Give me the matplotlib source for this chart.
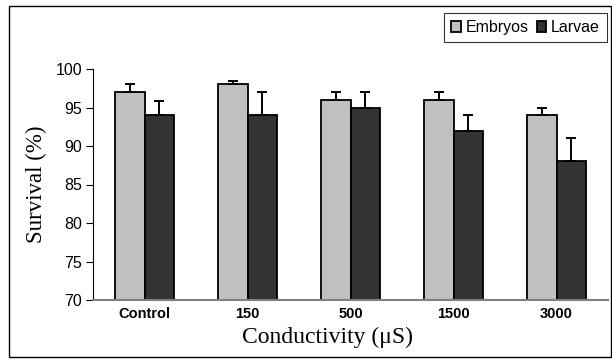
import matplotlib
matplotlib.use("Agg")
import matplotlib.pyplot as plt
import numpy as np
from matplotlib.patches import Rectangle

categories = ["Control", "150", "500", "1500", "3000"]
embryos = [97, 98, 96, 96, 94]
embryos_err = [1, 0.5, 1, 1, 1]
larvae = [94, 94, 95, 92, 88]
larvae_err = [1.9, 3, 2, 2, 3]

fig = plt.figure(figsize=(6.12, 3.6), dpi=100)
ax = fig.add_axes([93 / 612, 1 - 300 / 360, (608 - 93) / 612, (300 - 69) / 360])

x = np.arange(len(categories))
w = 0.29
err_kw = dict(ecolor="black", elinewidth=1.4, capsize=3.5, capthick=1.4)
ax.bar(x - w / 2, embryos, w, color="#c0c0c0", edgecolor="black",
       linewidth=1.3, yerr=[np.zeros(5), embryos_err], error_kw=err_kw,
       label="Embryos", zorder=2)
ax.bar(x + w / 2, larvae, w, color="#333333", edgecolor="black",
       linewidth=1.3, yerr=[np.zeros(5), larvae_err], error_kw=err_kw,
       label="Larvae", zorder=2)

ax.set_ylim(70, 100)
ax.set_xlim(-0.5, 4.5)
ax.set_yticks(range(70, 101, 5))
ax.set_xticks(x)
ax.set_xticklabels(categories, fontfamily="Liberation Sans", fontweight="bold",
                   fontsize=10.5)
for t in ax.get_yticklabels():
    t.set_fontfamily("Liberation Sans")
    t.set_fontsize(11.5)
ax.tick_params(axis="y", length=5, width=0.8, pad=3)
ax.tick_params(axis="x", length=0, pad=5)

ax.spines["top"].set_visible(False)
ax.spines["right"].set_visible(False)
ax.spines["left"].set_linewidth(0.8)
ax.spines["bottom"].set_color("#808080")
ax.spines["bottom"].set_linewidth(1.5)

ax.set_ylabel("Survival (%)", fontfamily="Liberation Serif", fontsize=16.5,
              labelpad=6)
ax.set_xlabel("Conductivity (μS)", fontfamily="Liberation Serif", fontsize=17)
ax.xaxis.set_label_coords((328 - 93) / (608 - 93), -0.118)
ax.xaxis.label.set_verticalalignment("top")

leg = ax.legend(loc="upper right", bbox_to_anchor=(607 / 612, 1 - 13 / 360),
                bbox_transform=fig.transFigure, ncol=2, frameon=True,
                fancybox=False, edgecolor="black", handlelength=0.6,
                handleheight=0.6, handletextpad=0.3, columnspacing=0.5,
                borderpad=0.45, borderaxespad=0,
                prop={"family": "Liberation Sans", "size": 11.5})
leg.get_frame().set_linewidth(0.8)

fig.patches.append(Rectangle((9 / 612, 1 - 357 / 360), (611 - 9) / 612,
                             (357 - 6) / 360, transform=fig.transFigure,
                             fill=False, edgecolor="black", linewidth=1))

fig.savefig("out.png", dpi=100)
